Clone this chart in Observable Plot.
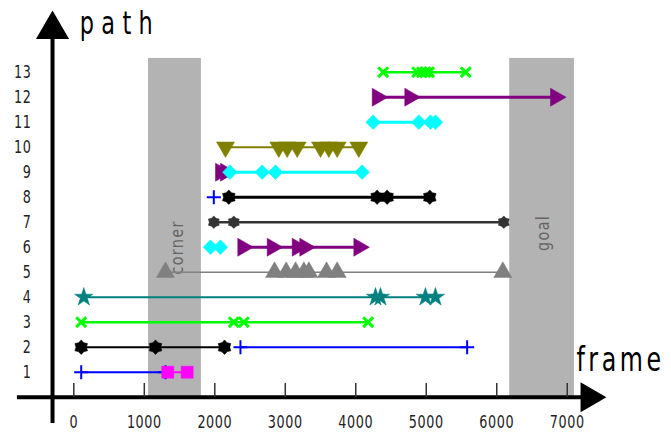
<!DOCTYPE html>
<html><head><meta charset="utf-8">
<script src="https://cdn.jsdelivr.net/npm/d3@7"></script>
<script src="https://cdn.jsdelivr.net/npm/@observablehq/plot@0.6"></script>
<style>body{margin:0;background:#fff} svg{display:block}</style>
</head><body><div id="chart"></div>
<script>
// ---- data ----
const pathTicks = [1,2,3,4,5,6,7,8,9,10,11,12,13];
const frameTicks = [0,1000,2000,3000,4000,5000,6000,7000];
const cornerZone = [1060, 1810];
const goalZone = [6184, 7102];
const zoneTop = 13.55;

const p1_blue    = [105, 1300];
const p1_magenta = [1333, 1608];
const p2_black   = [105, 1159, 2138];
const p2_blue    = [2364, 5580];
const p3_green   = [105, 2270, 2412, 4176];
const p4_teal    = [142, 4280, 4350, 4988, 5130];
const p5_gray    = [1300, 2847, 3013, 3146, 3264, 3335, 3585, 3736, 6086];
const p6_cyan    = [1939, 2080];
const p6_purple  = [2400, 2817, 3172, 3279, 4046];
const p7_dark    = [1986, 2270, 6100];
const p8_blue    = [1986];
const p8_black   = [2199, 4303, 4445, 5050];
const p9_purple  = [2084, 2155];
const p9_cyan    = [2213, 2672, 2861, 4090];
const p10_olive  = [2152, 2908, 3027, 3169, 3500, 3617, 3736, 4043];
const p11_cyan   = [4246, 4894, 5060, 5130];
const p12_purple = [4307, 4769, 6836];
const p13_green  = [4389, 4871, 4940, 4990, 5040, 5560];

// ---- styles ----
const hexagram = {
  draw(ctx, size) {
    const R = Math.sqrt(size / Math.PI), r = R * 0.72;
    for (let i = 0; i < 12; i++) {
      const a = -Math.PI / 2 + i * Math.PI / 6, rr = i % 2 ? r : R;
      const x = rr * Math.cos(a), y = rr * Math.sin(a);
      i ? ctx.lineTo(x, y) : ctx.moveTo(x, y);
    }
    ctx.closePath();
  }
};
const styles = {
  bluePlus:     {color: "#0000ff", symbol: "plus", r: 4.6, filled: false, sw: 2, lw: 2},
  magentaSquare:{color: "#ff00ff", symbol: "square", r: 6.8, filled: true, lw: 2},
  blackHex:     {color: "#000000", symbol: hexagram, r: 7.3, filled: true, lw: 2},
  blackHexThick:{color: "#000000", symbol: hexagram, r: 7.3, filled: true, lw: 3},
  greenX:       {color: "#00ff00", symbol: "times", r: 4.6, filled: false, sw: 3, lw: 2.5},
  tealStar:     {color: "#008080", symbol: "star", r: 5.8, filled: true, lw: 2},
  grayUp:       {color: "#808080", symbol: "triangle", r: 6.7, filled: true, lw: 1.5, rotate: 0},
  cyanDiamond:  {color: "#00ffff", symbol: "diamond2", r: 6.6, filled: true, lw: 3},
  purpleRight:  {color: "#800080", symbol: "triangle", r: 6.7, filled: true, lw: 3, rotate: 90},
  darkHex:      {color: "#333333", symbol: hexagram, r: 6.3, filled: true, lw: 2.5},
  oliveDown:    {color: "#808000", symbol: "triangle", r: 6.7, filled: true, lw: 2, rotate: 180}
};

const series = [
  {path: 1, frames: p1_blue, st: "bluePlus"},
  {path: 1, frames: p1_magenta, st: "magentaSquare"},
  {path: 2, frames: p2_black, st: "blackHex"},
  {path: 2, frames: p2_blue, st: "bluePlus"},
  {path: 3, frames: p3_green, st: "greenX"},
  {path: 4, frames: p4_teal, st: "tealStar"},
  {path: 5, frames: p5_gray, st: "grayUp"},
  {path: 6, frames: p6_cyan, st: "cyanDiamond"},
  {path: 6, frames: p6_purple, st: "purpleRight"},
  {path: 7, frames: p7_dark, st: "darkHex"},
  {path: 8, frames: p8_blue, st: "bluePlus"},
  {path: 8, frames: p8_black, st: "blackHexThick"},
  {path: 9, frames: p9_purple, st: "purpleRight"},
  {path: 9, frames: p9_cyan, st: "cyanDiamond"},
  {path: 10, frames: p10_olive, st: "oliveDown"},
  {path: 11, frames: p11_cyan, st: "cyanDiamond"},
  {path: 12, frames: p12_purple, st: "purpleRight"},
  {path: 13, frames: p13_green, st: "greenX"}
];

const FONT = "'DejaVu Sans', sans-serif";

const marks = [];
// shaded zones
marks.push(Plot.rect([
  {x1: cornerZone[0], x2: cornerZone[1]},
  {x1: goalZone[0], x2: goalZone[1]}
], {x1: "x1", x2: "x2", y1: 0, y2: zoneTop, fill: "#b3b3b3"}));
marks.push(Plot.text([{t: "corner", x: 1467, y: 5.99}, {t: "goal", x: 6668, y: 6.57}],
  {x: "x", y: "y", text: "t", rotate: -90, fill: "#666", fontSize: 17, fontFamily: FONT}));

// axes
marks.push(Plot.ruleY([0], {x1: -800, x2: 7300, stroke: "#000", strokeWidth: 4}));
marks.push(Plot.ruleX([-302], {y1: -1.05, y2: 14.4, stroke: "#000", strokeWidth: 4}));
marks.push(Plot.dot([{x: 7311, y: 0}], {x: "x", y: "y", symbol: "triangle", r: 11.1, rotate: 90, fill: "#000", stroke: "none"}));
marks.push(Plot.dot([{x: -302, y: 14.706}], {x: "x", y: "y", symbol: "triangle", r: 12.3, fill: "#000", stroke: "none"}));
marks.push(Plot.ruleX(frameTicks, {y1: 0, y2: 0.55, stroke: "#333", strokeWidth: 1.5}));
marks.push(Plot.text(frameTicks, {x: d => d, y: -1.0, text: d => String(d), fill: "#222", fontSize: 17, fontFamily: FONT}));
marks.push(Plot.text(pathTicks, {x: -600, y: d => d, text: d => String(d), textAnchor: "end", fill: "#222", fontSize: 17, fontFamily: FONT}));

// series
for (const s of series) {
  const st = styles[s.st];
  const data = s.frames.map(f => ({frame: f, path: s.path}));
  if (data.length > 1) marks.push(Plot.line(data, {x: "frame", y: "path", stroke: st.color, strokeWidth: st.lw}));
  marks.push(Plot.dot(data, {
    x: "frame", y: "path", symbol: st.symbol, r: st.r,
    rotate: st.rotate || 0,
    fill: st.filled ? st.color : "none",
    stroke: st.color,
    strokeWidth: st.filled ? 0.5 : st.sw
  }));
}

// axis titles
marks.push(Plot.text([{t: "path", x: 85, y: 14.548}], {x: "x", y: "y", text: "t", textAnchor: "start", lineAnchor: "bottom", fill: "#000", fontSize: 32, fontFamily: FONT}));
marks.push(Plot.text([{t: "frame", x: 7131, y: 1.06}], {x: "x", y: "y", text: "t", textAnchor: "start", lineAnchor: "bottom", fill: "#000", fontSize: 34, fontFamily: FONT}));

const chart = Plot.plot({
  width: 671, height: 434,
  marginTop: 0, marginRight: 0, marginBottom: 0, marginLeft: 0,
  x: {domain: [-1040, 8479], axis: null},
  y: {domain: [-1.492, 15.868], axis: null},
  style: {background: "#fff", fontFamily: FONT, overflow: "visible"},
  marks
});

// narrow the glyphs horizontally (the original uses a condensed face)
function squeeze(el, sx) {
  const tr = el.getAttribute("transform");
  if (tr) {
    el.setAttribute("transform", tr + ` scale(${sx},1)`);
  } else {
    const x = +el.getAttribute("x") || 0, y = +el.getAttribute("y") || 0;
    el.removeAttribute("x"); el.removeAttribute("y");
    el.setAttribute("transform", `translate(${x},${y}) scale(${sx},1)`);
  }
}
d3.select(chart).selectAll("text").each(function() {
  const t = this.textContent;
  if (t === "path") { this.setAttribute("letter-spacing", "10.5"); squeeze(this, 0.7); }
  else if (t === "frame") { this.setAttribute("letter-spacing", "5"); squeeze(this, 0.7); }
  else if (t === "corner" || t === "goal") { this.setAttribute("letter-spacing", "1.5"); squeeze(this, 0.85); }
  else { this.setAttribute("letter-spacing", "0.8"); squeeze(this, 0.75); }
});
document.getElementById("chart").appendChild(chart);
</script>
</body></html>
